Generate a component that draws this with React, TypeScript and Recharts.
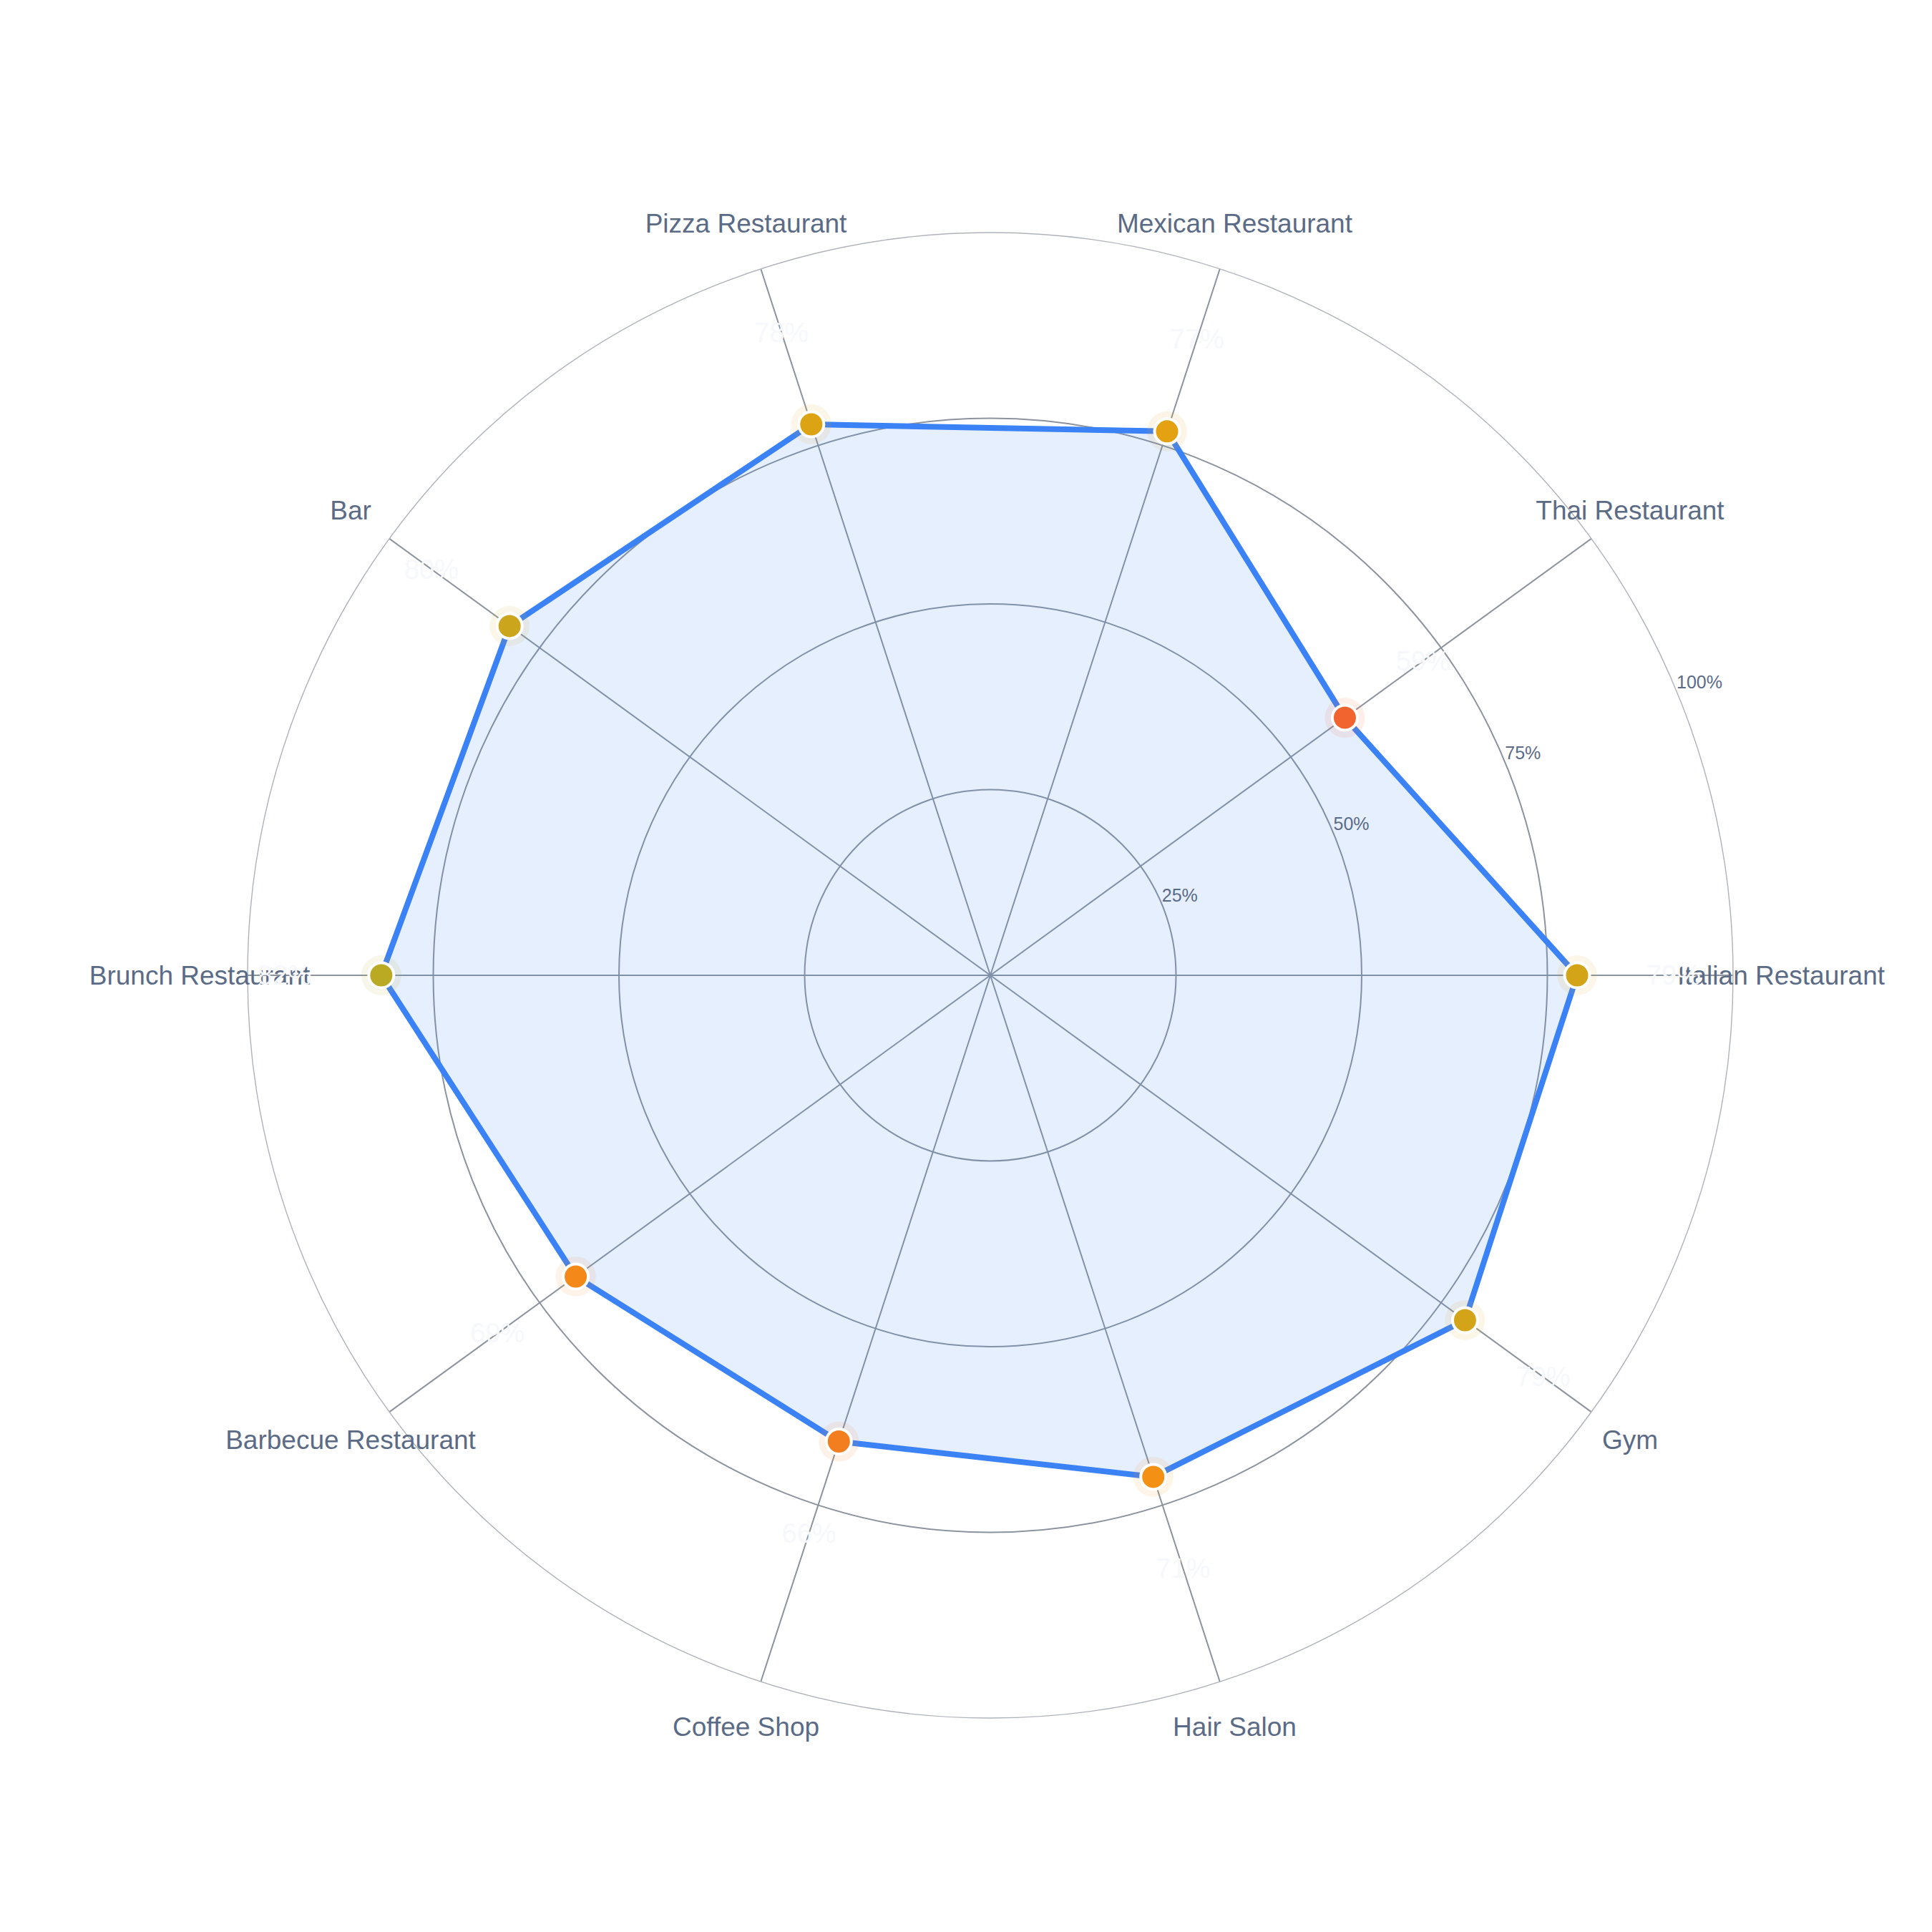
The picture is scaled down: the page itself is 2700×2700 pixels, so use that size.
import React from "react";
import { RadarChart, Radar, PolarGrid, PolarAngleAxis, PolarRadiusAxis } from "recharts";

// Categorias em sentido horário a partir da direita (0°), e a pontuação (%) de cada uma
const CATEGORIES = [
  "Italian Restaurant",
  "Gym",
  "Hair Salon",
  "Coffee Shop",
  "Barbecue Restaurant",
  "Brunch Restaurant",
  "Bar",
  "Pizza Restaurant",
  "Mexican Restaurant",
  "Thai Restaurant",
];
const SCORES = [79, 79, 71, 66, 69, 82, 80, 78, 77, 59];
const GRID_LEVELS = [25, 50, 75];

const data = CATEGORIES.map((category, i) => ({ category, value: SCORES[i] }));

const SIZE = 2700;
const CX = 1384;
const CY = 1363;
const OUTER = 1038;
const FONT = "'Liberation Sans', Arial, Helvetica, sans-serif";
const TEXT = "#5B6B86";

// escala de cor: vermelho -> âmbar -> verde
const STOPS: [number, number[]][] = [
  [50, [239, 68, 68]],
  [75, [245, 158, 11]],
  [100, [34, 197, 94]],
];

const scoreColor = (v: number) => {
  let i = 0;
  while (i < STOPS.length - 2 && v > STOPS[i + 1][0]) i++;
  const [a, ca] = STOPS[i];
  const [b, cb] = STOPS[i + 1];
  const t = Math.max(0, Math.min(1, (v - a) / (b - a)));
  const c = ca.map((x, k) => Math.round(x + (cb[k] - x) * t));
  return `rgb(${c[0]},${c[1]},${c[2]})`;
};

const ScoreDot = (props: any) => {
  const { cx, cy, payload } = props;
  const v = typeof payload?.value === "number" ? payload.value : props.value;
  const color = scoreColor(v);
  const dx = cx - CX;
  const dy = cy - CY;
  const len = Math.hypot(dx, dy) || 1;
  const lx = cx + (dx / len) * 135;
  const ly = cy + (dy / len) * 135;
  return (
    <g key={`dot-${props.index}`}>
      <circle cx={cx} cy={cy} r={28} fill={color} fillOpacity={0.1} />
      <circle cx={cx} cy={cy} r={17.5} fill={color} stroke="#fff" strokeWidth={4} />
      <text
        x={lx}
        y={ly}
        textAnchor="middle"
        dominantBaseline="central"
        fontSize={38}
        fontFamily={FONT}
        fill="#F6F8FB"
      >
        {v}%
      </text>
    </g>
  );
};

const AngleTick = (props: any) => (
  <text
    x={props.x}
    y={props.y}
    textAnchor="middle"
    dominantBaseline="central"
    fontSize={37}
    fontFamily={FONT}
    fill={TEXT}
  >
    {props.payload.value}
  </text>
);

const RadiusTick = (props: any) => {
  if (!props.payload || props.payload.value === 0) return <g />;
  return (
    <text x={props.x} y={props.y} dy={-4} textAnchor="start" fontSize={25} fontFamily={FONT} fill={TEXT}>
      {props.payload.value}%
    </text>
  );
};

const App = () => (
  <div style={{ position: "absolute", left: 0, top: 0, width: SIZE, height: SIZE, background: "#fff" }}>
    <RadarChart
      width={SIZE}
      height={SIZE}
      data={data}
      cx={CX}
      cy={CY}
      outerRadius={OUTER}
      startAngle={0}
      endAngle={-360}
      margin={{ top: 0, right: 0, bottom: 0, left: 0 }}
    >
      <PolarGrid
        gridType="circle"
        polarRadius={GRID_LEVELS.map((v) => (v / 100) * OUTER)}
        stroke="#8C939E"
        strokeWidth={2}
      />
      <PolarAngleAxis
        dataKey="category"
        tickLine={false}
        tickSize={67}
        axisLineType="circle"
        axisLine={{ stroke: "#AEB2B9", strokeWidth: 1.4 }}
        tick={AngleTick}
      />
      <PolarRadiusAxis angle={22.5} domain={[0, 100]} tickCount={5} axisLine={false} tick={RadiusTick} />
      <Radar
        dataKey="value"
        stroke="#3B82F6"
        strokeWidth={8}
        strokeLinejoin="round"
        fill="#3B82F6"
        fillOpacity={0.13}
        dot={ScoreDot}
        isAnimationActive={false}
      />
    </RadarChart>
  </div>
);

export default App;
